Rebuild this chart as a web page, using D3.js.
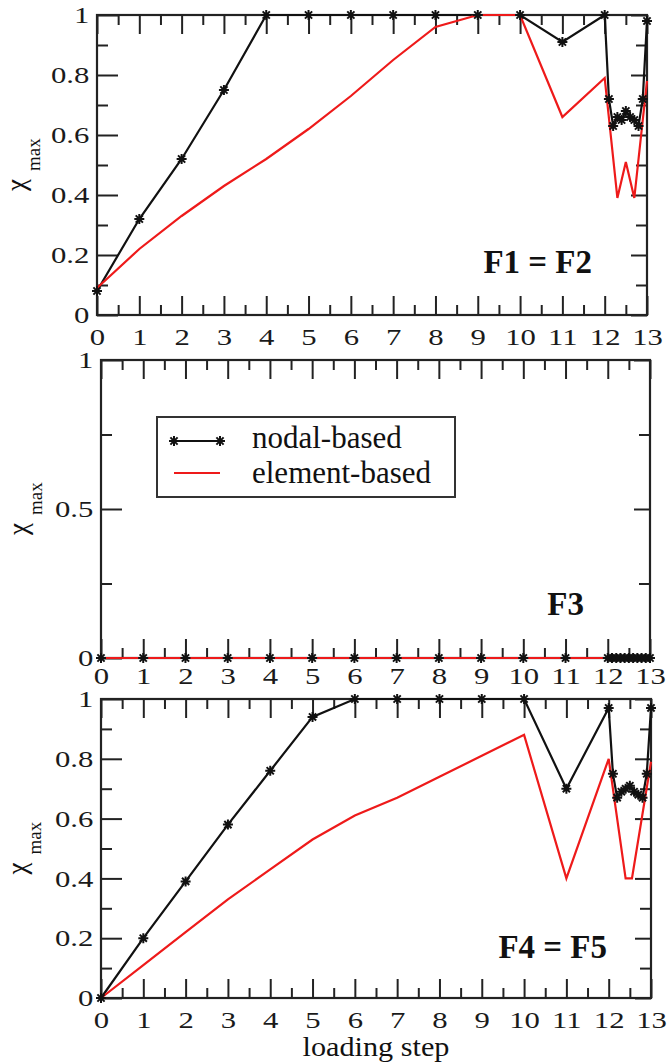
<!DOCTYPE html>
<html>
<head>
<meta charset="utf-8">
<script src="https://cdn.jsdelivr.net/npm/d3@7"></script>
<style>
  body { margin: 0; background: #fff; }
  svg { display: block; }
</style>
</head>
<body>
<svg id="chart" width="667" height="1064" font-family="Liberation Serif"></svg>
<script>
(function () {

    //loading steps where the nodal-based curve has points (dense between 12 and 13)
    var nodalSteps = [0, 1, 2, 3, 4, 5, 6, 7, 8, 9, 10, 11, 12, 12.1, 12.2, 12.3, 12.4, 12.5, 12.6, 12.7, 12.8, 12.9, 13];

    //F1 = F2
    var nodalF1 = [0.08, 0.32, 0.52, 0.75, 1, 1, 1, 1, 1, 1, 1, 0.91, 1, 0.72, 0.63, 0.66, 0.65, 0.68, 0.66, 0.65, 0.63, 0.72, 0.98];
    var elementStepsF1 = [0, 1, 2, 3, 4, 5, 6, 7, 8, 9, 10, 11, 12, 12.3, 12.5, 12.7, 13];
    var elementF1 = [0.09, 0.22, 0.33, 0.43, 0.52, 0.62, 0.73, 0.85, 0.96, 1, 1, 0.66, 0.79, 0.39, 0.51, 0.39, 0.78];

    //F3
    var nodalF3 = [0, 0, 0, 0, 0, 0, 0, 0, 0, 0, 0, 0, 0, 0, 0, 0, 0, 0, 0, 0, 0, 0, 0];
    var elementStepsF3 = [0, 1, 2, 3, 4, 5, 6, 7, 8, 9, 10, 11, 12, 13];
    var elementF3 = [0, 0, 0, 0, 0, 0, 0, 0, 0, 0, 0, 0, 0, 0];

    //F4 = F5
    var nodalF4 = [0, 0.2, 0.39, 0.58, 0.76, 0.94, 1, 1, 1, 1, 1, 0.70, 0.97, 0.75, 0.67, 0.69, 0.70, 0.71, 0.69, 0.68, 0.67, 0.75, 0.97];
    var elementStepsF4 = [0, 1, 2, 3, 4, 5, 6, 7, 8, 9, 10, 11, 12, 12.4, 12.55, 13];
    var elementF4 = [0, 0.11, 0.22, 0.33, 0.43, 0.53, 0.61, 0.67, 0.74, 0.81, 0.88, 0.40, 0.80, 0.40, 0.40, 0.79];

    //tick labels
    var stepTicks = [0, 1, 2, 3, 4, 5, 6, 7, 8, 9, 10, 11, 12, 13];
    var chiTicksFine = [0, 0.2, 0.4, 0.6, 0.8, 1];
    var chiTicksCoarse = [0, 0.5, 1];
    var legendLabels = ["nodal-based", "element-based"];
    var panelLabels = ["F1 = F2", "F3", "F4 = F5"];

    var RED = "#ee1a1a";
    var FONT = "'Liberation Serif', 'Times New Roman', serif";

    var svg = d3.select("#chart");

    //xmgrace style star: 4 crossing strokes
    var starType = {
        draw: function (ctx, size) {
            var r = Math.sqrt(size) / 2, d = r * 0.72;
            ctx.moveTo(-r, 0); ctx.lineTo(r, 0);
            ctx.moveTo(0, -r); ctx.lineTo(0, r);
            ctx.moveTo(-d, -d); ctx.lineTo(d, d);
            ctx.moveTo(-d, d); ctx.lineTo(d, -d);
        }
    };
    var star = d3.symbol().type(starType).size(100);

    //panel layout
    var panels = [
        { top: 15, bottom: 315, left: 97, right: 647, yTicks: chiTicksFine, yMinorStep: 0.1, xPad: 13, titleX: 25,
          label: panelLabels[0], labelX: 592, labelY: 273,
          nodalX: nodalSteps, nodalY: nodalF1, elemX: elementStepsF1, elemY: elementF1 },
        { top: 360, bottom: 658, left: 101, right: 650, yTicks: chiTicksCoarse, yMinorStep: 0.25, xPad: 9, titleX: 27,
          label: panelLabels[1], labelX: 584, labelY: 615,
          nodalX: nodalSteps, nodalY: nodalF3, elemX: elementStepsF3, elemY: elementF3 },
        { top: 699, bottom: 998, left: 101, right: 651, yTicks: chiTicksFine, yMinorStep: 0.1, xPad: 13, titleX: 26,
          label: panelLabels[2], labelX: 607, labelY: 958,
          nodalX: nodalSteps, nodalY: nodalF4, elemX: elementStepsF4, elemY: elementF4 }
    ];

    panels.forEach(drawPanel);
    drawLegend();

    //x axis title
    svg.append("g")
        .attr("transform", "translate(376,1056) scale(1.12,1)")
        .append("text")
        .attr("text-anchor", "middle")
        .style("font-family", FONT)
        .style("font-size", "27px")
        .style("fill", "#111")
        .text("loading step");

    function drawPanel(p) {
        var x = d3.scaleLinear().domain([0, 13]).range([p.left, p.right]);
        var y = d3.scaleLinear().domain([0, 1]).range([p.bottom, p.top]);
        var g = svg.append("g").attr("class", "panel");

        var xMinor = d3.range(0.5, 13, 1);
        var yMinor = d3.range(p.yMinorStep, 1, p.yMinorStep).filter(function (v) {
            return p.yTicks.every(function (t) { return Math.abs(t - v) > 1e-6; });
        });
        var fmt = function (d) { return d === 0 || d === 1 ? String(d) : d3.format(".1f")(d); };

        //frame
        g.append("rect")
            .attr("x", p.left).attr("y", p.top)
            .attr("width", p.right - p.left).attr("height", p.bottom - p.top)
            .style("fill", "none").style("stroke", "#222").style("stroke-width", 2.2);

        //bottom axis with labels
        addAxis(g, d3.axisBottom(x).tickValues(stepTicks).tickSizeInner(-19).tickSizeOuter(0)
            .tickPadding(p.xPad).tickFormat(d3.format("d")), "translate(0," + p.bottom + ")");
        addAxis(g, d3.axisBottom(x).tickValues(xMinor).tickSizeInner(-10).tickSizeOuter(0)
            .tickFormat(""), "translate(0," + p.bottom + ")");
        //top axis, ticks only
        addAxis(g, d3.axisTop(x).tickValues(stepTicks).tickSizeInner(-19).tickSizeOuter(0)
            .tickFormat(""), "translate(0," + p.top + ")");
        addAxis(g, d3.axisTop(x).tickValues(xMinor).tickSizeInner(-10).tickSizeOuter(0)
            .tickFormat(""), "translate(0," + p.top + ")");
        //left axis with labels
        addAxis(g, d3.axisLeft(y).tickValues(p.yTicks).tickSizeInner(-21).tickSizeOuter(0)
            .tickPadding(6).tickFormat(fmt), "translate(" + p.left + ",0)");
        addAxis(g, d3.axisLeft(y).tickValues(yMinor).tickSizeInner(-11).tickSizeOuter(0)
            .tickFormat(""), "translate(" + p.left + ",0)");
        //right axis, ticks only
        addAxis(g, d3.axisRight(y).tickValues(p.yTicks).tickSizeInner(-16).tickSizeOuter(0)
            .tickFormat(""), "translate(" + p.right + ",0)");
        addAxis(g, d3.axisRight(y).tickValues(yMinor).tickSizeInner(-11).tickSizeOuter(0)
            .tickFormat(""), "translate(" + p.right + ",0)");

        //y axis title: chi with subscript max
        var t = g.append("g")
            .attr("transform", "translate(" + p.titleX + "," + ((p.top + p.bottom) / 2 + 26) + ") rotate(-90)")
            .append("text")
            .style("font-family", FONT)
            .style("fill", "#111");
        t.append("tspan").style("font-size", "27px").text("χ");
        t.append("tspan").attr("dx", 8).attr("dy", 15).style("font-size", "19px").text("max");

        //curves
        var nodal = p.nodalX.map(function (s, i) { return [s, p.nodalY[i]]; });
        var elem = p.elemX.map(function (s, i) { return [s, p.elemY[i]]; });
        var line = d3.line().x(function (d) { return x(d[0]); }).y(function (d) { return y(d[1]); });

        g.append("path").datum(nodal).attr("d", line)
            .style("fill", "none").style("stroke", "#111").style("stroke-width", 2.2);
        g.append("path").datum(elem).attr("d", line)
            .style("fill", "none").style("stroke", RED).style("stroke-width", 2.2);
        g.selectAll(".star").data(nodal).enter().append("path")
            .attr("class", "star")
            .attr("transform", function (d) { return "translate(" + x(d[0]) + "," + y(d[1]) + ")"; })
            .attr("d", star)
            .style("fill", "none").style("stroke", "#111").style("stroke-width", 2);

        //panel label
        g.append("text")
            .attr("x", p.labelX).attr("y", p.labelY)
            .attr("text-anchor", "end")
            .style("font-family", FONT)
            .style("font-size", "33px").style("font-weight", "bold")
            .style("fill", "#111")
            .text(p.label);
    }

    function addAxis(g, axis, transform) {
        var a = g.append("g").attr("transform", transform).call(axis)
            .attr("font-family", FONT);
        a.select(".domain").remove();
        a.selectAll(".tick line").style("stroke", "#222").style("stroke-width", 2);
        a.selectAll(".tick text")
            .attr("transform", "scale(1.28,1)")
            .style("font-size", "24px")
            .style("font-family", FONT)
            .style("fill", "#1a1a1a");
        return a;
    }

    function drawLegend() {
        var lg = svg.append("g").attr("class", "legend");
        lg.append("rect")
            .attr("x", 157).attr("y", 417).attr("width", 298).attr("height", 80)
            .style("fill", "#fff").style("stroke", "#333").style("stroke-width", 2);

        var rows = [
            { y: 441, color: "#111", marks: true },
            { y: 473, color: RED, marks: false }
        ];
        rows.forEach(function (r, i) {
            lg.append("line")
                .attr("x1", 174).attr("x2", 220).attr("y1", r.y).attr("y2", r.y)
                .style("stroke", r.color).style("stroke-width", 2);
            if (r.marks) {
                [174, 220].forEach(function (mx) {
                    lg.append("path")
                        .attr("transform", "translate(" + mx + "," + r.y + ")")
                        .attr("d", star)
                        .style("fill", "none").style("stroke", "#111").style("stroke-width", 2);
                });
            }
            lg.append("text")
                .attr("x", 252).attr("y", r.y + 7 + i * 3)
                .style("font-family", FONT)
                .style("font-size", "31px")
                .style("fill", "#111")
                .text(legendLabels[i]);
        });
    }

})();
</script>
</body>
</html>
